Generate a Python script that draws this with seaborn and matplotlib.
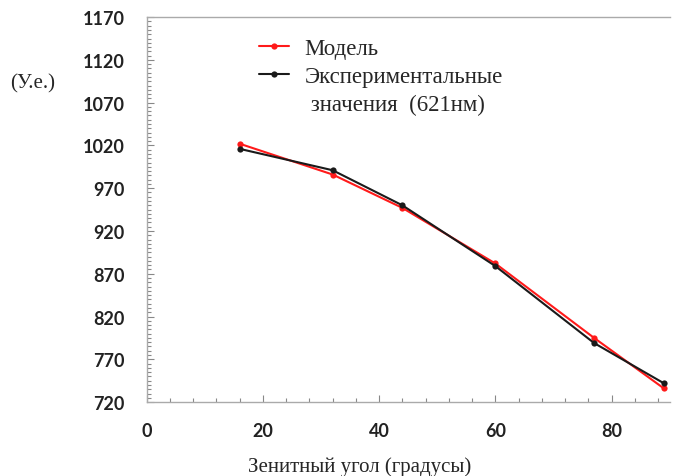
import pandas as pd
import matplotlib
matplotlib.use("Agg")
import matplotlib.pyplot as plt
from matplotlib.lines import Line2D
from matplotlib.ticker import MultipleLocator
import seaborn as sns

# data
angles = [16, 32, 44, 60, 77, 89]
model = [1022, 986, 947, 882, 795, 736]
experiment = [1016, 991, 950, 879, 789, 742]
series_names = ["Модель", "Экспериментальные"]
legend_extra = " значения  (621нм)"

df = pd.DataFrame({
    "angle": angles * 2,
    "value": model + experiment,
    "series": [series_names[0]] * len(angles) + [series_names[1]] * len(angles),
})

sns.set_style("white")
serif = ["Liberation Serif", "DejaVu Serif"]

fig = plt.figure(figsize=(6.73, 4.77), dpi=100)
ax = fig.add_axes([0.218, 0.155, 0.777, 0.807])

sns.lineplot(data=df, x="angle", y="value", hue="series",
             palette=["#ff1a1a", "#1a1a1a"], marker="o", markersize=4.5,
             markeredgewidth=0, linewidth=1.5, ax=ax, legend=True)

ax.set_xlim(0, 90)
ax.set_ylim(720, 1170)
ax.set_xticks([0, 20, 40, 60, 80])
ax.set_yticks(range(720, 1171, 50))
ax.xaxis.set_minor_locator(MultipleLocator(4))
ax.yaxis.set_minor_locator(MultipleLocator(5))
ax.tick_params(which="both", direction="in", color="#888888", width=0.8,
               bottom=True, left=True)
ax.tick_params(which="major", length=5)
ax.tick_params(which="minor", length=3)
ax.tick_params(axis="x", pad=14)
ax.tick_params(axis="y", pad=16)
for lab in ax.get_xticklabels() + ax.get_yticklabels():
    lab.set_fontfamily("Lato")
    lab.set_fontweight("bold")
    lab.set_fontsize(13)
    lab.set_color("#222222")

for side in ["left", "bottom", "top"]:
    ax.spines[side].set_color("#aaaaaa")
    ax.spines[side].set_linewidth(1.0)
ax.spines["right"].set_visible(False)

ax.set_xlabel("Зенитный угол (градусы)", family=serif, fontsize=15)
ax.xaxis.set_label_coords(0.408, -0.14)
ax.set_ylabel("")
fig.text(0.015, 0.815, "(У.е.)", family=serif, fontsize=15)

handles, labels = ax.get_legend_handles_labels()
handles.append(Line2D([], [], alpha=0))
labels.append(legend_extra)
ax.legend(handles, labels, prop={"family": serif, "size": 16.5}, frameon=False,
          loc="upper left", bbox_to_anchor=(0.175, 1.0),
          handlelength=1.3, labelspacing=0.3, handletextpad=0.7)

fig.savefig("out.png", dpi=100)
